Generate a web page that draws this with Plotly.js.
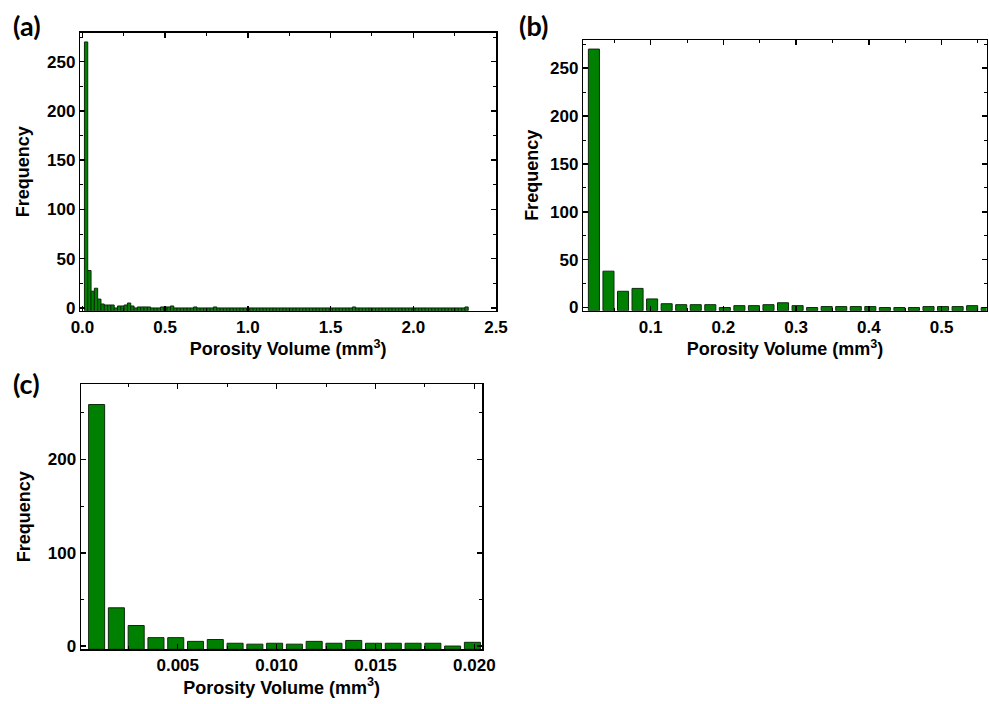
<!DOCTYPE html>
<html>
<head>
<meta charset="utf-8">
<script src="https://cdn.plot.ly/plotly-3.0.1.min.js"></script>
<style>html,body{margin:0;padding:0;background:#fff;}#chart{width:989px;height:704px;}</style>
</head>
<body>
<div id="chart"></div>
<script>
// ---- data ----
// Histogram of porosity volume (mm^3): bins of 0.02 mm^3, first bin centre 0.022
const BIN_START_AB = 0.022;
const BIN_WIDTH_AB = 0.02;
const FREQ_AB = [
  270, 38, 17, 20, 9, 4, 3, 3, 3, 0,
  2, 2, 3, 5, 2, 0, 1, 1, 1, 1,
  0, 0, 0, 1, 1, 1, 2, 0,
  0, 0, 0, 0, 0, 1, 0, 0, 0, 0, 0, 1,
  0, 0, 0, 0, 0, 0, 0, 0, 0, 0,
  0, 0, 0, 0, 0, 0, 0, 0, 0, 0,
  0, 0, 0, 0, 0, 0, 0, 0, 0, 0,
  0, 0, 0, 0, 0, 0, 0, 0, 0, 0,
  0, 1,
  0, 0, 0, 0, 0, 0, 0, 0, 0, 0,
  0, 0, 0, 0, 0, 0, 0, 0, 0, 0,
  0, 0, 0, 0, 0, 0, 0, 0, 0, 0,
  0, 0, 0, 1
];
// Panel (c): bins of 0.001 mm^3
const BIN_START_C = 0.0009;
const BIN_WIDTH_C = 0.001;
const FREQ_C = [259, 41, 22, 9, 9, 5, 7, 3, 2, 3, 2, 5, 3, 6, 3, 3, 3, 3, 0, 4];

const PANEL_LABELS = ['(a)', '(b)', '(c)'];
const X_TITLE = 'Porosity Volume (mm<sup>3</sup>)';
const Y_TITLE = 'Frequency';

// ---- style ----
const W = 989, H = 704;
const FILL = '#008000';
const EDGE = '#0d2b0d';
const FONT = 'Liberation Sans, Arial, sans-serif';
const tickFont = {family: FONT, size: 17, color: '#000', weight: 'bold'};
const titleFont = {family: FONT, size: 18, color: '#000', weight: 'bold'};

function dx(a, b) { return [a / W, b / W]; }
function dy(top, bottom) { return [1 - bottom / H, 1 - top / H]; }

// axis floors (Origin draws bars up from the bottom of the axis)
const FLOOR_A = -2.8, FLOOR_B = -3.3, FLOOR_C = -3.5;

function barTrace(freq, x0, dxv, width, floor, xa, ya) {
  return {
    type: 'bar',
    x0: x0, dx: dxv,
    y: freq.map(f => f - floor),
    base: floor,
    width: width,
    xaxis: xa, yaxis: ya,
    marker: {color: FILL, line: {color: EDGE, width: 1}},
    hoverinfo: 'skip',
    showlegend: false
  };
}

const traces = [
  barTrace(FREQ_AB, BIN_START_AB, BIN_WIDTH_AB, 0.02, FLOOR_A, 'x', 'y'),
  barTrace(FREQ_AB, BIN_START_AB, BIN_WIDTH_AB, 0.0152, FLOOR_B, 'x2', 'y2'),
  barTrace(FREQ_C, BIN_START_C, BIN_WIDTH_C, 0.00081, FLOOR_C, 'x3', 'y3')
];

function xAxis(domain, range, dtick, minorDtick, fmt, anchor) {
  return {
    domain: domain, range: range, anchor: anchor,
    dtick: dtick, tick0: 0, tickformat: fmt,
    ticks: 'inside', ticklen: 5, tickwidth: 1.5, tickcolor: '#000',
    minor: {ticks: 'inside', ticklen: 3, tickwidth: 1, tickcolor: '#000', dtick: minorDtick, showgrid: false},
    showline: true, linecolor: '#000', linewidth: 1.5, mirror: 'allticks',
    showgrid: false, zeroline: false,
    tickfont: tickFont,
    title: {text: X_TITLE, font: titleFont, standoff: 6}
  };
}
function yAxis(domain, range, dtick, minorDtick, anchor, standoff) {
  return {
    domain: domain, range: range, anchor: anchor,
    dtick: dtick, tick0: 0,
    ticks: 'inside', ticklen: 5, tickwidth: 1.5, tickcolor: '#000',
    minor: {ticks: 'inside', ticklen: 3, tickwidth: 1, tickcolor: '#000', dtick: minorDtick, showgrid: false},
    showline: true, linecolor: '#000', linewidth: 1.5, mirror: 'allticks',
    showgrid: false, zeroline: false,
    tickfont: tickFont,
    title: {text: Y_TITLE, font: titleFont, standoff: standoff}
  };
}

const layout = {
  width: W, height: H,
  margin: {l: 0, r: 0, t: 0, b: 0},
  paper_bgcolor: '#fff', plot_bgcolor: '#fff',
  showlegend: false,
  xaxis: xAxis(dx(80.3, 496), [-0.013, 2.5], 0.5, 0.25, '.1f', 'y'),
  yaxis: yAxis(dy(32.7, 310.7), [FLOOR_A, 279.4], 50, 25, 'x', 12),
  xaxis2: xAxis(dx(583.3, 986.7), [0.0074, 0.562], 0.1, 0.05, '.1f', 'y2'),
  yaxis2: yAxis(dy(40, 310.7), [FLOOR_B, 279.5], 50, 25, 'x2', 6),
  xaxis3: xAxis(dx(81, 482.3), [0.00011, 0.0204], 0.005, 0.0025, '.3f', 'y3'),
  yaxis3: yAxis(dy(384, 649.3), [FLOOR_C, 281], 100, 50, 'x3', 12),
  annotations: [
    {text: PANEL_LABELS[0], x: 11 / W, y: 1 - 7 / H},
    {text: PANEL_LABELS[1], x: 517 / W, y: 1 - 7 / H},
    {text: PANEL_LABELS[2], x: 11 / W, y: 1 - 365 / H}
  ].map(a => Object.assign(a, {
    xref: 'paper', yref: 'paper', xanchor: 'left', yanchor: 'top', showarrow: false,
    font: {family: 'Lato, Open Sans, sans-serif', size: 27, color: '#000', weight: 'bold'}
  }))
};

Plotly.newPlot('chart', traces, layout, {displayModeBar: false, staticPlot: true});
</script>
</body>
</html>
